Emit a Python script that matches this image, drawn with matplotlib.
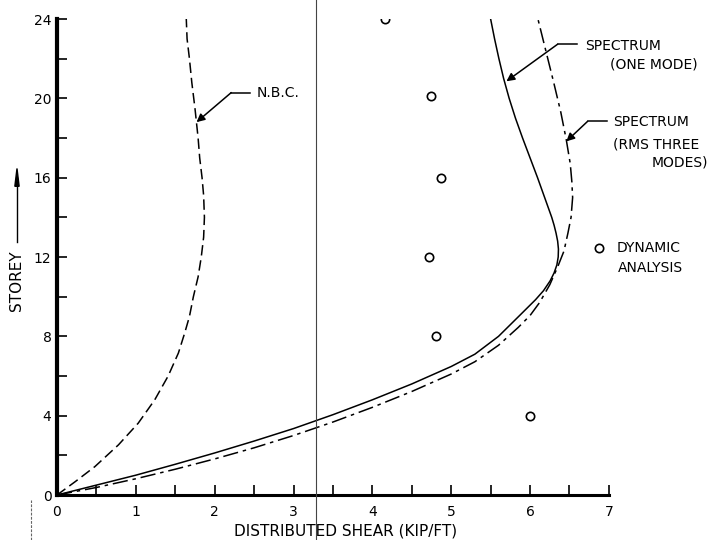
import matplotlib.pyplot as plt
from matplotlib.lines import Line2D

plt.rcParams['font.family'] = 'DejaVu Sans'
plt.rcParams['lines.scale_dashes'] = False

# N.B.C. code distribution
nbc_shear = [0, 0.23, 0.48, 0.78, 1.03, 1.24, 1.41, 1.54, 1.62, 1.68, 1.73,
             1.79, 1.83, 1.86, 1.87, 1.86, 1.84, 1.81, 1.79, 1.75, 1.71,
             1.68, 1.65, 1.64]
nbc_storey = [0, 0.67, 1.43, 2.53, 3.62, 4.8, 6.0, 7.16, 8.17, 9.0, 10,
              11, 12, 13, 14, 15.1, 16, 17, 18, 19.5, 20.8,
              22, 23, 24]

# spectrum, one mode
one_shear = [0, 0.5, 1.0, 1.5, 2.0, 2.5, 3.0, 3.5, 4.0, 4.5, 5.0, 5.3,
             5.6, 5.88, 6.07, 6.17, 6.255, 6.305, 6.34, 6.357, 6.36, 6.35,
             6.33, 6.305, 6.275, 6.23, 6.185, 6.095, 6.0, 5.905, 5.815,
             5.735, 5.665, 5.605, 5.55, 5.50]
one_storey = [0, 0.5, 1.0, 1.55, 2.12, 2.72, 3.35, 4.05, 4.8, 5.6, 6.48, 7.1,
              8.0, 9.1, 9.85, 10.3, 10.8, 11.2, 11.6, 12.0, 12.4, 12.8,
              13.2, 13.6, 14.0, 14.5, 15.0, 16.0, 17.0, 18.0, 19.0,
              20.0, 21.0, 22.0, 23.0, 24]

# spectrum, RMS of three modes
rms_shear = [0, 0.5, 1.0, 1.5, 2.0, 2.5, 3.0, 3.5, 4.0, 4.5, 5.0, 5.3,
             5.6, 5.85, 6.0, 6.12, 6.25, 6.35, 6.43, 6.48, 6.52, 6.54,
             6.53, 6.51, 6.46, 6.39, 6.3, 6.2, 6.1]
rms_storey = [0, 0.38, 0.82, 1.3, 1.82, 2.38, 3.0, 3.68, 4.42, 5.22, 6.1, 6.72,
              7.55, 8.45, 9.05, 9.7, 10.6, 11.5, 12.3, 13.2, 14.0, 15.0,
              15.8, 16.7, 17.9, 19.3, 20.8, 22.4, 24]

# dynamic analysis
dyn_shear = [4.16, 4.75, 4.87, 4.72, 4.81, 6.0]
dyn_storey = [24, 20.1, 16, 12, 8, 4]

fig = plt.figure(figsize=(7.14, 5.40), dpi=100)
ax = fig.add_axes([0.0798, 0.0833, 0.773, 0.8815])

ax.plot(nbc_shear, nbc_storey, color='black', lw=1.1, ls=(0, (7.5, 3.5)))
ax.plot(one_shear, one_storey, color='black', lw=1.1)
ax.plot(rms_shear, rms_storey, color='black', lw=1.1, ls=(0, (11, 3.5, 2.5, 3.5)))
ax.plot(dyn_shear, dyn_storey, ls='none', marker='o', ms=6, mfc='white',
        mec='black', mew=1.2)

ax.set_xlim(0, 7)
ax.set_ylim(0, 24)
ax.set_xticks(range(0, 8))
ax.set_xticks([i + 0.5 for i in range(7)], minor=True)
ax.set_yticks(range(0, 25, 4))
ax.set_yticks(range(2, 24, 4), minor=True)
ax.tick_params(which='both', direction='in', length=7, width=1.2, labelsize=10)
ax.tick_params(axis='x', pad=7)
ax.tick_params(axis='y', pad=4)
for s in ['top', 'right']:
    ax.spines[s].set_visible(False)
ax.spines['left'].set_linewidth(3)
ax.spines['bottom'].set_linewidth(2.2)

ax.set_xlabel('DISTRIBUTED SHEAR (KIP/FT)', fontsize=11)
ax.xaxis.set_label_coords(0.523, -0.06)

# storey label with arrow
fig.text(0.0238, 0.48, 'STOREY', rotation=90, ha='center', va='center', fontsize=11)
fig.add_artist(Line2D([0.0238, 0.0238], [0.552, 0.67], transform=fig.transFigure,
                      color='black', lw=1))
fig.add_artist(plt.Polygon([[0.0238, 0.688], [0.0208, 0.655], [0.0268, 0.655]],
                           closed=True, color='black', transform=fig.transFigure))

# annotation leaders
arrow = dict(arrowstyle='-|>', color='black', lw=1.1, shrinkA=0, shrinkB=0,
             mutation_scale=12)


def leader(target, elbow, end):
    ax.annotate('', xy=target, xytext=elbow, arrowprops=arrow, annotation_clip=False)
    ax.plot([elbow[0], end[0]], [elbow[1], end[1]], color='black', lw=1.1,
            clip_on=False)


leader((1.77, 18.8), (2.21, 20.29), (2.45, 20.29))
ax.text(2.53, 20.25, 'N.B.C.', fontsize=10, va='center', ha='left')

leader((5.70, 20.86), (6.35, 22.73), (6.60, 22.73))
ax.text(6.70, 22.62, 'SPECTRUM', fontsize=10, va='center', ha='left')
ax.text(7.01, 21.70, '(ONE MODE)', fontsize=10, va='center', ha='left')

leader((6.46, 17.83), (6.73, 18.84), (6.97, 18.84))
ax.text(7.05, 18.79, 'SPECTRUM', fontsize=10, va='center', ha='left')
ax.text(7.05, 17.68, '(RMS THREE', fontsize=10, va='center', ha='left')
ax.text(7.54, 16.77, 'MODES)', fontsize=10, va='center', ha='left')

ax.plot([6.87], [12.47], ls='none', marker='o', ms=6, mfc='white',
        mec='black', mew=1.2, clip_on=False)
ax.text(7.10, 12.47, 'DYNAMIC', fontsize=10, va='center', ha='left')
ax.text(7.11, 11.46, 'ANALYSIS', fontsize=10, va='center', ha='left')

# scan artefacts: page fold line and mark at lower left
fig.add_artist(Line2D([0.4426, 0.4426], [0, 1], transform=fig.transFigure,
                      color='#444444', lw=0.8))
fig.add_artist(Line2D([0.043, 0.043], [0, 0.075], transform=fig.transFigure,
                      color='#666666', lw=0.8, ls=(0, (2, 1))))

fig.savefig('out.png', dpi=100)
